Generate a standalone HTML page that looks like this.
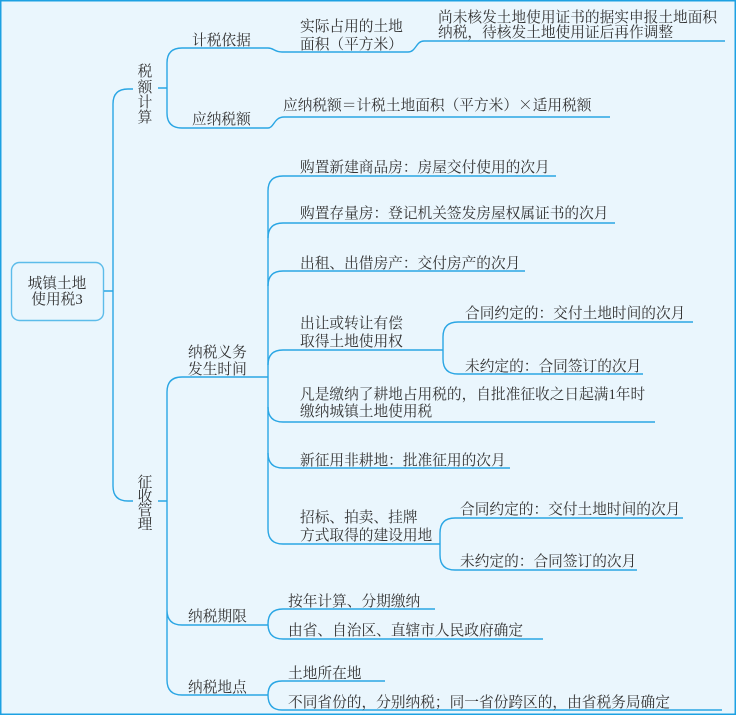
<!DOCTYPE html>
<html><head><meta charset="utf-8"><style>
html,body{margin:0;padding:0;background:#eaf6fd;}
svg{display:block;}
text{font-family:"Liberation Serif","Noto Serif CJK SC",serif;font-size:14.7px;fill:#333;}
.cjk{font-family:"Noto Serif CJK SC","Noto Sans CJK SC",serif;}
</style></head><body>
<svg width="736" height="715" viewBox="0 0 736 715" xmlns="http://www.w3.org/2000/svg">
<rect x="0.75" y="0.75" width="734.5" height="713.5" fill="#eaf6fd" stroke="#1da1e2" stroke-width="1.5"/>
<g fill="none" stroke="#2aa6e4" stroke-width="1.4">
<rect x="11.5" y="262.5" width="92" height="58" rx="8" stroke="#5cbcea"/>
<path d="M104,291 L113,291 M113,104 L113,486 M113,104 Q113,89 128,89 L133,89 M113,486 Q113,501 128,501 L133,501"/>
<path d="M158,88 L167,88 M158,501 L167,501"/>
<path d="M167,63 L167,113 M167,63 Q167,48 182,48 L268,48 C274,48 274,52 282,52 L408,52 C416,52 416,41 424,41 L725,41"/>
<path d="M167,113 Q167,128 182,128 L268,128 C274,128 274,117 284,117 L610,117"/>
<path d="M167,392 L167,680 M167,392 Q167,377 182,377 L268,377 M167,610 Q167,625 182,625 L268,625 M167,680 Q167,695 182,695 L268,695"/>
<path d="M268,191 L268,529"/>
<path d="M268,191 Q268,176 283,176 L556,176"/>
<path d="M268,238 Q268,223 283,223 L615,223"/>
<path d="M268,286 Q268,271 283,271 L525,271"/>
<path d="M268,365 Q268,350 283,350 L443,350"/>
<path d="M268,407 Q268,422 283,422 L655,422"/>
<path d="M268,453 Q268,468 283,468 L510,468"/>
<path d="M268,529 Q268,544 283,544 L440,544"/>
<path d="M443,337 L443,359 M443,337 Q443,322 458,322 L693,322 M443,359 Q443,374 458,374 L643,374"/>
<path d="M440,533 L440,555 M440,533 Q440,518 455,518 L683,518 M440,555 Q440,570 455,570 L637,570"/>
<path d="M268,624 Q268,609 283,609 L435,609 M268,624 Q268,639 283,639 L543,639"/>
<path d="M268,695 Q268,681 282,681 L385,681 M268,695 Q268,710 282,710 L722,710"/>
</g>
<text x="57" y="288" text-anchor="middle" font-size="14">城镇土地</text>
<text x="57" y="304" text-anchor="middle" font-size="14">使用税3</text>
<g text-anchor="middle">
<text x="145" y="76">税</text><text x="145" y="92">额</text><text x="145" y="107">计</text><text x="145" y="122">算</text>
<text x="145" y="487">征</text><text x="145" y="501">收</text><text x="145" y="515">管</text><text x="145" y="529">理</text>
</g>
<text x="192" y="45">计税依据</text>
<text x="192" y="124">应纳税额</text>
<text x="300" y="31">实际占用的土地</text>
<text x="300" y="49">面积（平方米）</text>
<text x="438" y="22">尚未核发土地使用证书的据实申报土地面积</text>
<text x="438" y="37">纳税，待核发土地使用证后再作调整</text>
<text x="283" y="110">应纳税额＝计税土地面积（平方米）<tspan class="cjk">×</tspan>适用税额</text>
<text x="188" y="357">纳税义务</text>
<text x="188" y="374">发生时间</text>
<text x="300" y="172">购置新建商品房：房屋交付使用的次月</text>
<text x="300" y="218">购置存量房：登记机关签发房屋权属证书的次月</text>
<text x="300" y="268">出租、出借房产：交付房产的次月</text>
<text x="300" y="328">出让或转让有偿</text>
<text x="300" y="346">取得土地使用权</text>
<text x="465" y="318">合同约定的：交付土地时间的次月</text>
<text x="465" y="371">未约定的：合同签订的次月</text>
<text x="300" y="399">凡是缴纳了耕地占用税的，自批准征收之日起满1年时</text>
<text x="300" y="416">缴纳城镇土地使用税</text>
<text x="300" y="465">新征用非耕地：批准征用的次月</text>
<text x="300" y="522">招标、拍卖、挂牌</text>
<text x="300" y="540">方式取得的建设用地</text>
<text x="460" y="514">合同约定的：交付土地时间的次月</text>
<text x="460" y="566">未约定的：合同签订的次月</text>
<text x="188" y="621">纳税期限</text>
<text x="288" y="606">按年计算、分期缴纳</text>
<text x="288" y="635">由省、自治区、直辖市人民政府确定</text>
<text x="188" y="692">纳税地点</text>
<text x="288" y="678">土地所在地</text>
<text x="288" y="707">不同省份的，分别纳税；同一省份跨区的，由省税务局确定</text>
</svg>
</body></html>
